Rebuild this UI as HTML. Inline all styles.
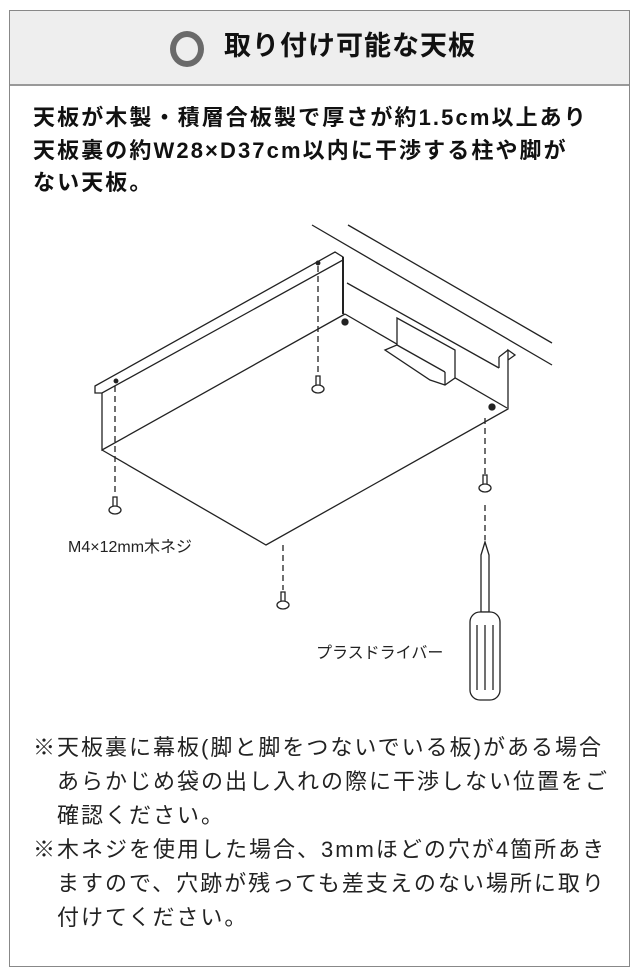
<!DOCTYPE html>
<html><head><meta charset="utf-8"><style>
body{margin:0;width:640px;height:977px;background:#fff;position:relative;font-family:"Liberation Sans","Noto Sans CJK JP",sans-serif;color:#111;overflow:hidden}
.frame{position:absolute;left:9px;top:10px;width:621px;height:957px;border:1.5px solid #888;box-sizing:border-box}
.head{position:absolute;left:10px;top:11px;width:619px;height:73px;background:#eeeeee;border-bottom:2px solid #999}
.title{position:absolute;left:224px;top:26px;font-size:27px;font-weight:bold;line-height:40px;white-space:nowrap;letter-spacing:1px}
.ring{position:absolute;left:170px;top:31px;width:22px;height:24px;border:6px solid #6a6a6a;border-radius:50%}
.body{position:absolute;left:33px;top:102px;font-size:22px;font-weight:bold;line-height:32.5px;white-space:nowrap;letter-spacing:2.1px}
.notes{position:absolute;left:33px;top:731px;font-size:22px;line-height:34px;white-space:nowrap;color:#222;letter-spacing:2px}
.notes div{padding-left:24px;text-indent:-24px}
.lbl{position:absolute;font-size:16px;white-space:nowrap;color:#222}
</style></head><body>
<div class="frame"></div>
<div class="head"></div>
<div class="ring"></div>
<div class="title">取り付け可能な天板</div>
<div class="body">天板が木製・積層合板製で厚さが約1.5cm以上あり<br>天板裏の約W28×D37cm以内に干渉する柱や脚が<br>ない天板。</div>
<svg style="position:absolute;left:0;top:0" width="640" height="977" fill="none" stroke="#222" stroke-width="1.3">
<line x1="312" y1="225" x2="552" y2="365"/>
<line x1="348" y1="225" x2="552" y2="343"/>
<polygon points="95,386 335,252 343,257 343,260 102,393 95,393" fill="#fff"/>
<polyline points="102,393 102,450 345,314"/>
<line x1="343" y1="257" x2="343" y2="314" stroke-width="2"/>
<polyline points="347,283 499,368"/>
<line x1="345" y1="314" x2="507" y2="408"/>
<polyline points="102,450 266,545 508,409 508,350 515,355 508,360"/>
<line x1="499" y1="368" x2="499" y2="357"/>
<line x1="499" y1="357" x2="508" y2="350"/>
<polygon points="385,350 397,345 397,318 455,350 455,378 445,385 430,380" fill="#fff"/>
<line x1="397" y1="345" x2="445" y2="372"/>
<line x1="445" y1="372" x2="445" y2="385"/>
<circle cx="345" cy="322" r="3" fill="#222"/>
<circle cx="492" cy="407" r="3" fill="#222"/>
<circle cx="116" cy="381" r="1.8" fill="#222"/>
<circle cx="318" cy="263" r="1.8" fill="#222"/>
<g stroke-dasharray="6,4">
<line x1="115" y1="386" x2="115" y2="495"/>
<line x1="318" y1="266" x2="318" y2="373"/>
<line x1="485" y1="418" x2="485" y2="475"/>
<line x1="485" y1="505" x2="485" y2="540"/>
<line x1="283" y1="545" x2="283" y2="590"/>
</g>
<g fill="#fff">
<g transform="translate(115,497)"><path d="M-2,0 L2,0 L2,10 L-2,10Z"/><ellipse cx="0" cy="13" rx="6" ry="4"/></g>
<g transform="translate(318,376)"><path d="M-2,0 L2,0 L2,10 L-2,10Z"/><ellipse cx="0" cy="13" rx="6" ry="4"/></g>
<g transform="translate(485,475)"><path d="M-2,0 L2,0 L2,10 L-2,10Z"/><ellipse cx="0" cy="13" rx="6" ry="4"/></g>
<g transform="translate(283,592)"><path d="M-2,0 L2,0 L2,10 L-2,10Z"/><ellipse cx="0" cy="13" rx="6" ry="4"/></g>
<path d="M485,542 L489,555 L489,612 L481,612 L481,555Z"/>
<rect x="470" y="612" width="30" height="88" rx="10"/>
</g>
<line x1="477" y1="625" x2="477" y2="690"/><line x1="485" y1="625" x2="485" y2="690"/><line x1="493" y1="625" x2="493" y2="690"/>
</svg>
<div class="lbl" style="left:68px;top:533px">M4×12mm木ネジ</div>
<div class="lbl" style="left:316px;top:639px">プラスドライバー</div>
<div class="notes"><div>※天板裏に幕板(脚と脚をつないでいる板)がある場合<br>あらかじめ袋の出し入れの際に干渉しない位置をご<br>確認ください。</div><div>※木ネジを使用した場合、3mmほどの穴が4箇所あき<br>ますので、穴跡が残っても差支えのない場所に取り<br>付けてください。</div></div>
</body></html>
